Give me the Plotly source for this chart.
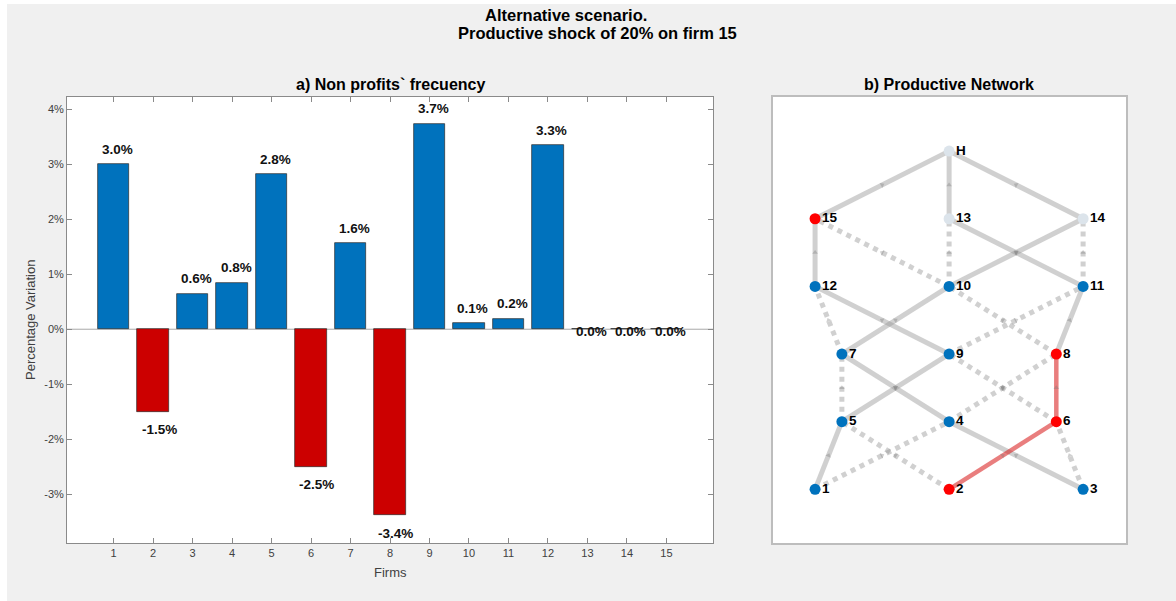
import math
import plotly.graph_objects as go

W, H = 1176, 601

# ---------------- data: bar chart ----------------
firms = list(range(1, 16))
variation = [3.0, -1.5, 0.645, 0.84, 2.82, -2.5, 1.56, -3.38, 3.73, 0.11, 0.19, 3.34, 0.0, 0.0, 0.0]
y_ticks = [-3, -2, -1, 0, 1, 2, 3, 4]
y_tick_text = ["-3%", "-2%", "-1%", "0%", "1%", "2%", "3%", "4%"]

# ---------------- data: productive network ----------------
node_names = ["H", "15", "13", "14", "12", "10", "11", "7", "9", "8", "5", "4", "6", "1", "2", "3"]
node_col = [2, 1, 2, 3, 1, 2, 3, 1.2, 2, 2.8, 1.2, 2, 2.8, 1, 2, 3]
node_layer = [6, 5, 5, 5, 4, 4, 4, 3, 3, 3, 2, 2, 2, 1, 1, 1]
node_state = ["final", "shock", "final", "final", "ok", "ok", "ok", "ok", "ok", "shock",
              "ok", "ok", "shock", "ok", "shock", "ok"]
edges_solid = [("15", "H"), ("13", "H"), ("14", "H"), ("12", "15"), ("11", "13"), ("10", "14"),
               ("7", "10"), ("9", "12"), ("8", "11"), ("4", "7"), ("3", "4"), ("5", "9"), ("1", "5")]
edges_dotted = [("7", "12"), ("10", "15"), ("10", "13"), ("11", "14"), ("8", "10"), ("9", "11"),
                ("5", "7"), ("6", "9"), ("4", "8"), ("1", "4"), ("3", "6"), ("2", "5")]
edges_shock = [("6", "8"), ("2", "6")]

# ---------------- style ----------------
FONT = "Arial, Liberation Sans, Helvetica, sans-serif"
BLUE = "#0072BD"
RED = "#CC0000"
TXT = "#404040"
AX = "#8a8a8a"

def px(x):
    return x / W

def py(y):
    return 1 - y / H

# plot areas (pixels)
L1, R1, T1, B1 = 67, 713, 97, 543
L2, R2 = 773, 1126
x1_range = [-0.18, 16.18]
y1_range = [-3.885, 4.22]
x2_range = [0.686, 3.32]
y2_range = [0.206, 6.80]

fig = go.Figure()

# bars
fig.add_trace(go.Bar(
    x=firms, y=variation, width=0.8,
    marker=dict(color=[RED if v < 0 else BLUE for v in variation],
                line=dict(color="#2b2b2b", width=0.7)),
    xaxis="x", yaxis="y", showlegend=False, hoverinfo="x+y",
))

annotations = []
for f, v in zip(firms, variation):
    shift = 15 if v > 0 else (-18 if v < 0 else -2.5)
    annotations.append(dict(
        x=f + (0.1 if v >= 0 else 0.15), y=v, xref="x", yref="y", yshift=shift,
        text=f"<b>{v:.1f}%</b>", showarrow=False,
        font=dict(family=FONT, size=13.5, color="#111111"),
        xanchor="center", yanchor="middle",
    ))

# network edges
pos = {n: (c, l) for n, c, l in zip(node_names, node_col, node_layer)}
sx = (R2 - L2) / (x2_range[1] - x2_range[0])
sy = (B1 - T1) / (y2_range[1] - y2_range[0])

def add_edges(edges, color, dash, width):
    for a, b in edges:
        (xa, ya), (xb, yb) = pos[a], pos[b]
        fig.add_trace(go.Scatter(
            x=[xa, xb], y=[ya, yb], mode="lines",
            line=dict(color=color, width=width, dash=dash),
            xaxis="x2", yaxis="y2", showlegend=False, hoverinfo="skip",
        ))

add_edges(edges_solid, "rgba(150,150,150,0.45)", "solid", 5)
add_edges(edges_dotted, "rgba(150,150,150,0.45)", "dot", 5)
add_edges(edges_shock, "rgba(215,20,20,0.55)", "solid", 4.5)

# arrowheads at edge midpoints
ax_, ay_, ang_ = [], [], []
for a, b in edges_solid + edges_dotted + edges_shock:
    (xa, ya), (xb, yb) = pos[a], pos[b]
    ax_.append((xa + xb) / 2)
    ay_.append((ya + yb) / 2)
    ang_.append(math.degrees(math.atan2((xb - xa) * sx, (yb - ya) * sy)))
fig.add_trace(go.Scatter(
    x=ax_, y=ay_, mode="markers",
    marker=dict(symbol="triangle-up", size=5, angle=ang_, color="rgba(120,120,120,0.35)", line=dict(width=0)),
    xaxis="x2", yaxis="y2", showlegend=False, hoverinfo="skip",
))

state_color = {"ok": BLUE, "shock": "#FF0000", "final": "#DCE4EB"}
fig.add_trace(go.Scatter(
    x=node_col, y=node_layer, mode="markers",
    marker=dict(size=11, color=[state_color[s] for s in node_state], line=dict(width=0)),
    text=node_names, xaxis="x2", yaxis="y2", showlegend=False, hoverinfo="text",
))
for n, c, l in zip(node_names, node_col, node_layer):
    annotations.append(dict(
        x=c, y=l, xref="x2", yref="y2", xshift=5, yshift=1, showarrow=False,
        text=f"<b>{n}</b>", font=dict(family=FONT, size=13.5, color="#000000"),
        xanchor="left", yanchor="middle",
    ))

# titles and labels
def ptext(x, y, text, size, bold=True, color="#000000", angle=0):
    annotations.append(dict(
        x=px(x), y=py(y), xref="paper", yref="paper", showarrow=False,
        text=f"<b>{text}</b>" if bold else text, textangle=angle,
        font=dict(family=FONT, size=size, color=color),
        xanchor="center", yanchor="middle",
    ))

ptext(566, 15, "Alternative scenario.", 16.5)
ptext(597, 33, "Productive shock of 20% on firm 15", 16.5)
ptext(390, 85, "a) Non profits` frecuency", 16)
ptext(949, 85, "b) Productive Network", 16)
ptext(390, 572, "Firms", 13, bold=False, color=TXT)
ptext(30, 320, "Percentage Variation", 13, bold=False, color=TXT, angle=-90)

shapes = [
    # white margins outside the figure window
    dict(type="rect", xref="paper", yref="paper", x0=0, x1=1, y0=py(4), y1=1,
         fillcolor="white", line=dict(width=0), layer="above"),
    dict(type="rect", xref="paper", yref="paper", x0=0, x1=px(7), y0=0, y1=1,
         fillcolor="white", line=dict(width=0), layer="above"),
    # bar baseline
    dict(type="line", xref="x", yref="y", x0=x1_range[0], x1=x1_range[1], y0=0, y1=0,
         line=dict(color="#a8a8a8", width=1), layer="below"),
]

fig.update_layout(
    width=W, height=H,
    margin=dict(l=0, r=0, t=0, b=0),
    paper_bgcolor="#F0F0F0", plot_bgcolor="white",
    showlegend=False, bargap=0,
    xaxis=dict(domain=[px(L1), px(R1)], range=x1_range, tickmode="array", tickvals=firms,
               ticktext=[str(f) for f in firms], ticks="inside", ticklen=5, tickcolor=AX,
               showline=True, linecolor=AX, linewidth=1, mirror="ticks", showgrid=False,
               zeroline=False, tickfont=dict(family=FONT, size=11, color=TXT), fixedrange=True),
    yaxis=dict(domain=[py(B1), py(T1)], range=y1_range, tickmode="array", tickvals=y_ticks,
               ticktext=y_tick_text, ticks="inside", ticklen=5, tickcolor=AX,
               showline=True, linecolor=AX, linewidth=1, mirror="ticks", showgrid=False,
               zeroline=False, tickfont=dict(family=FONT, size=11, color=TXT), fixedrange=True),
    xaxis2=dict(domain=[px(L2), px(R2)], range=x2_range, showticklabels=False, ticks="",
                showline=True, linecolor="#bdbdbd", linewidth=1.5, mirror=True,
                showgrid=False, zeroline=False, anchor="y2", fixedrange=True),
    yaxis2=dict(domain=[py(B1), py(T1)], range=y2_range, showticklabels=False, ticks="",
                showline=True, linecolor="#bdbdbd", linewidth=1.5, mirror=True,
                showgrid=False, zeroline=False, anchor="x2", fixedrange=True),
    annotations=annotations,
    shapes=shapes,
)

fig.write_html("out.html", config={"displayModeBar": False},
               post_script="document.body.style.margin='0';document.body.style.overflow='hidden';")
